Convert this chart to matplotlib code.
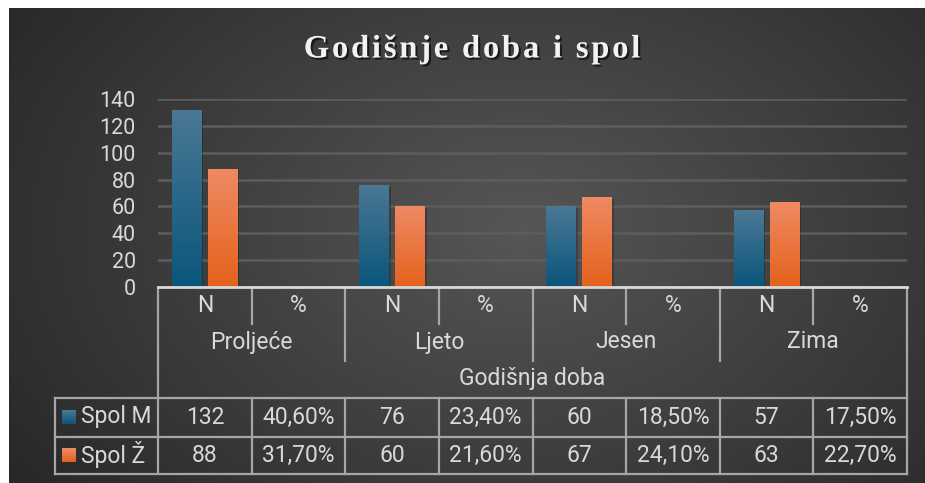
import numpy as np
import matplotlib
matplotlib.use("Agg")
import matplotlib.pyplot as plt
import matplotlib.patheffects as pe
from matplotlib.colors import LinearSegmentedColormap
from matplotlib.transforms import blended_transform_factory

plt.rcParams['font.family'] = ['Roboto', 'DejaVu Sans']

# data
title = "Godišnje doba i spol"
seasons = ["Proljeće", "Ljeto", "Jesen", "Zima"]
sub_labels = ["N", "%"]
axis_title = "Godišnja doba"
series_names = ["Spol M", "Spol Ž"]
m_n = [132, 76, 60, 57]
m_pct = [40.6, 23.4, 18.5, 17.5]
z_n = [88, 60, 67, 63]
z_pct = [31.7, 21.6, 24.1, 22.7]
yticks = [0, 20, 40, 60, 80, 100, 120, 140]

# 8 categories: N and % per season (% plotted as a fraction, like excel does)
m_vals, z_vals, m_txt, z_txt = [], [], [], []
for i in range(len(seasons)):
    m_vals += [m_n[i], m_pct[i] / 100]
    z_vals += [z_n[i], z_pct[i] / 100]
    m_txt += [str(m_n[i]), f"{m_pct[i]:.2f}%".replace(".", ",")]
    z_txt += [str(z_n[i]), f"{z_pct[i]:.2f}%".replace(".", ",")]
ncat = len(m_vals)
x = np.arange(ncat)

W, H = 925, 483
fig = plt.figure(figsize=(W / 100, H / 100), dpi=100)
fig.patch.set_facecolor("white")

# pixel canvas for background, title and table
cv = fig.add_axes([0, 0, 1, 1])
cv.axis("off")

yy, xx = np.mgrid[8:H, 9:W]
d = np.sqrt(((xx - 520) / 620.0) ** 2 + ((yy - 230) / 430.0) ** 2)
v = (86 - 46 * np.clip(d, 0, 1)) / 255.0
bg = np.dstack([v, v, v])
cv.imshow(bg, extent=[9, W, H, 8], aspect="auto", zorder=0)
cv.set_xlim(0, W)
cv.set_ylim(H, 0)

# title with letter spacing
renderer = fig.canvas.get_renderer()
tprops = dict(fontsize=23.5, family="Liberation Serif", weight="bold", color="#f2f2f2", va="center", ha="left",
              path_effects=[pe.withSimplePatchShadow(offset=(1.5, -1.5), shadow_rgbFace="black", alpha=0.6)])
spacing = 2.8
widths = []
for ch in title:
    t = cv.text(0, 0, ch, **tprops)
    widths.append(t.get_window_extent(renderer).width)
    t.remove()
total = sum(widths) + spacing * (len(title) - 1)
xp = 472 - total / 2
for ch, w in zip(title, widths):
    cv.text(xp, 49, ch, **tprops)
    xp += w + spacing

# bar axes
ax = fig.add_axes([158 / W, 1 - 287 / H, 749 / W, 188 / H])
ax.patch.set_alpha(0)
bw = 0.32
off = 0.192
grads = [("#0a567b", "#4b7895"), ("#e4621c", "#ef8a63")]
for vals, shift, (cb, ct) in zip([m_vals, z_vals], [-off, off], grads):
    bars = ax.bar(x + shift, vals, width=bw, color=cb, zorder=3)
    cmap = LinearSegmentedColormap.from_list("g", [cb, ct])
    for r in bars:
        if r.get_height() > 2:
            r.set_path_effects([pe.SimplePatchShadow(offset=(1.2, -1.2), shadow_rgbFace="black", alpha=0.22), pe.Normal()])
        g = np.linspace(1, 0, 128).reshape(-1, 1)
        im = ax.imshow(g, extent=[r.get_x(), r.get_x() + r.get_width(), 0, r.get_height()],
                       aspect="auto", cmap=cmap, vmin=0, vmax=1, origin="upper", zorder=4)
        im.set_clip_path(r)

ax.set_xlim(-0.5, ncat - 0.5)
ax.set_ylim(0, 140)
ax.set_yticks(yticks)
ax.set_xticks([])
ax.yaxis.grid(True, color="#5d5d5d", lw=1.8)
ax.set_axisbelow(True)
ax.tick_params(axis="y", length=0, pad=16, labelsize=15.5, labelcolor="#d9d9d9")
for s in ["left", "right", "top"]:
    ax.spines[s].set_visible(False)
ax.spines["bottom"].set_color("#d9d9d9")
ax.spines["bottom"].set_linewidth(2)
ax.spines["bottom"].set_zorder(6)

# table (x in category units, y in pixels)
tr = blended_transform_factory(ax.transData, cv.transData)
lc = "#a6a6a6"
lw = 1.6
tc = "#d9d9d9"
fs = 16.5

left_px, right_px = 158, 907
cv.plot([left_px, left_px], [288, 474], color=lc, lw=lw)
cv.plot([right_px, right_px], [288, 474], color=lc, lw=lw)
cv.plot([55, 55], [398, 474], color=lc, lw=lw)
for yl in [398, 437, 474]:
    cv.plot([55, right_px], [yl, yl], color=lc, lw=lw)

for i in range(ncat - 1):
    b = i + 0.5
    if i % 2 == 0:
        cv.plot([b, b], [288, 324], color=lc, lw=lw, transform=tr)
    else:
        cv.plot([b, b], [288, 361], color=lc, lw=lw, transform=tr)
    cv.plot([b, b], [398, 474], color=lc, lw=lw, transform=tr)

for i in range(ncat):
    cv.text(i, 306, sub_labels[i % 2], ha="center", va="center", fontsize=fs, color=tc, transform=tr)
    cv.text(i, 417, m_txt[i], ha="center", va="center", fontsize=fs, color=tc, transform=tr)
    cv.text(i, 455, z_txt[i], ha="center", va="center", fontsize=fs, color=tc, transform=tr)
for k, s in enumerate(seasons):
    cv.text(2 * k + 0.5, 342, s, ha="center", va="center", fontsize=fs, color=tc, transform=tr)
cv.text((ncat - 1) / 2, 379, axis_title, ha="center", va="center", fontsize=fs, color=tc, transform=tr)

# legend keys inside the table
for (cb, ct), name, yc in zip(grads, series_names, [417, 455]):
    cmap = LinearSegmentedColormap.from_list("g", [cb, ct])
    g = np.linspace(1, 0, 32).reshape(-1, 1)
    cv.imshow(g, extent=[62, 76, yc + 7, yc - 7], aspect="auto", cmap=cmap, vmin=0, vmax=1, origin="upper", zorder=3)
    cv.text(81, yc, name, ha="left", va="center", fontsize=fs, color=tc)
cv.set_xlim(0, W)
cv.set_ylim(H, 0)

fig.savefig("out.png", dpi=100, facecolor=fig.get_facecolor())
